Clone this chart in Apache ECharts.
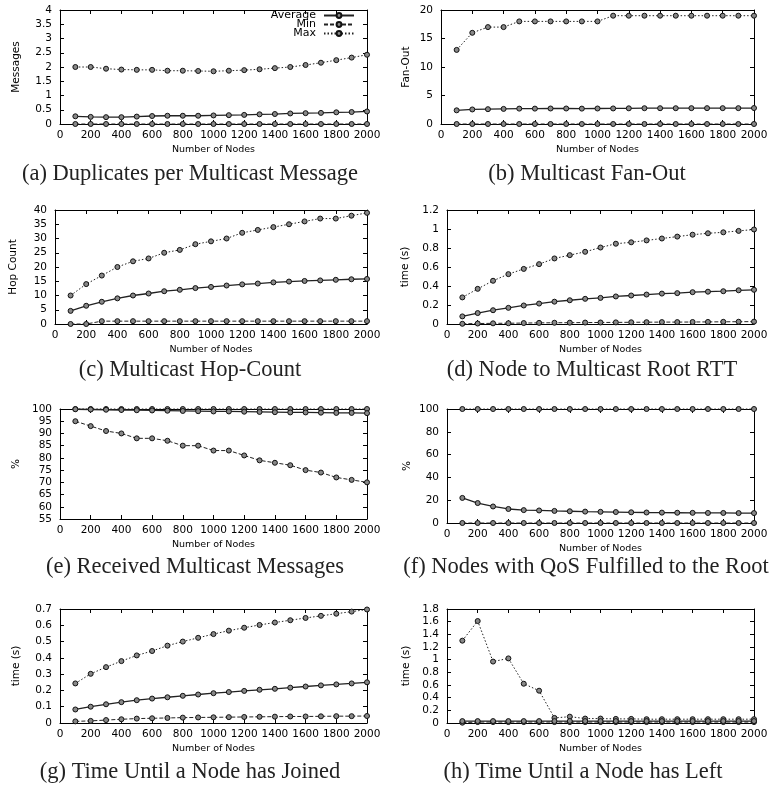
<!DOCTYPE html>
<html><head><meta charset="utf-8">
<script src="https://cdn.jsdelivr.net/npm/echarts@6/dist/echarts.min.js"></script>
<style>html,body{margin:0;padding:0;background:#fff}#c{width:775px;height:790px}</style>
</head><body><div id="c"></div>
<script>
const nodes = [100,200,300,400,500,600,700,800,900,1000,1100,1200,1300,1400,1500,1600,1700,1800,1900,2000];
const seriesNames = ['Average','Min','Max'];

// (a) Duplicates per Multicast Message
const dupAvg = [0.27,0.25,0.24,0.24,0.26,0.28,0.29,0.29,0.29,0.30,0.31,0.32,0.34,0.35,0.37,0.38,0.39,0.41,0.42,0.44];
const dupMin = [0,0,0,0,0,0,0,0,0,0,0,0,0,0,0,0,0,0,0,0];
const dupMax = [2.0,2.0,1.94,1.91,1.90,1.90,1.87,1.87,1.86,1.85,1.87,1.89,1.92,1.96,2.0,2.07,2.15,2.24,2.33,2.43];
// (b) Multicast Fan-Out
const fanAvg = [2.4,2.55,2.6,2.65,2.7,2.7,2.72,2.72,2.7,2.72,2.73,2.75,2.77,2.77,2.77,2.78,2.78,2.78,2.78,2.8];
const fanMin = [0,0,0,0,0,0,0,0,0,0,0,0,0,0,0,0,0,0,0,0];
const fanMax = [13,16,17,17,18,18,18,18,18,18,19,19,19,19,19,19,19,19,19,19];
// (c) Multicast Hop-Count
const hopAvg = [4.6,6.4,7.8,9.0,10.0,10.7,11.5,12.0,12.6,13.0,13.5,13.9,14.2,14.6,14.9,15.1,15.3,15.5,15.7,15.8];
const hopMin = [0,0,1,1,1,1,1,1,1,1,1,1,1,1,1,1,1,1,1,1];
const hopMax = [10,14,17,20,22,23,25,26,28,29,30,32,33,34,35,36,37,37,38,39];
// (d) Node to Multicast Root RTT
const rttAvg = [0.08,0.115,0.145,0.17,0.195,0.215,0.235,0.25,0.265,0.275,0.29,0.30,0.31,0.32,0.325,0.335,0.34,0.345,0.355,0.36];
const rttMin = [0.002,0.005,0.007,0.008,0.01,0.012,0.013,0.014,0.015,0.016,0.017,0.018,0.019,0.02,0.02,0.021,0.022,0.023,0.024,0.025];
const rttMax = [0.28,0.37,0.455,0.525,0.58,0.63,0.69,0.725,0.76,0.805,0.845,0.86,0.88,0.9,0.92,0.94,0.955,0.965,0.98,0.995];
// (e) Received Multicast Messages
const recAvg = [99.9,99.8,99.7,99.6,99.5,99.4,99.3,99.2,99.1,99.0,99.0,98.9,98.8,98.7,98.6,98.6,98.5,98.4,98.4,98.3];
const recMin = [95,93,91,90,88,88,87,85,85,83,83,81,79,78,77,75,74,72,71,70];
const recMax = [100,100,100,100,100,100,100,100,100,100,100,100,100,100,100,100,100,100,100,100];
// (f) Nodes with QoS Fulfilled to the Root
const qosAvg = [22,17.5,14.5,12.3,11.3,11,10.6,10.3,10,9.8,9.6,9.4,9.2,9.1,9.0,8.9,8.8,8.8,8.7,8.7];
const qosMin = [0,0,0,0,0,0,0,0,0,0,0,0,0,0,0,0,0,0,0,0];
const qosMax = [100,100,100,100,100,100,100,100,100,100,100,100,100,100,100,100,100,100,100,100];
// (g) Time Until a Node has Joined
const joinAvg = [0.083,0.1,0.115,0.128,0.14,0.15,0.158,0.167,0.175,0.183,0.19,0.197,0.204,0.21,0.217,0.224,0.231,0.237,0.243,0.25];
const joinMin = [0.01,0.013,0.018,0.023,0.027,0.029,0.031,0.033,0.034,0.035,0.036,0.037,0.038,0.039,0.04,0.04,0.041,0.042,0.042,0.043];
const joinMax = [0.243,0.302,0.343,0.38,0.415,0.442,0.475,0.5,0.523,0.546,0.567,0.585,0.602,0.617,0.631,0.645,0.658,0.671,0.684,0.697];
// (h) Time Until a Node has Left
const leftAvg = [0.03,0.03,0.03,0.03,0.03,0.03,0.03,0.03,0.03,0.03,0.03,0.03,0.03,0.03,0.03,0.03,0.03,0.03,0.03,0.03];
const leftMin = [0.005,0.015,0.015,0.015,0.015,0.015,0.015,0.015,0.015,0.015,0.015,0.015,0.015,0.015,0.015,0.015,0.015,0.015,0.015,0.015];
const leftMax = [1.3,1.61,0.97,1.02,0.62,0.51,0.08,0.1,0.07,0.07,0.065,0.065,0.06,0.06,0.06,0.06,0.06,0.06,0.06,0.06];

const captions = ['(a) Duplicates per Multicast Message','(b) Multicast Fan-Out','(c) Multicast Hop-Count','(d) Node to Multicast Root RTT','(e) Received Multicast Messages','(f) Nodes with QoS Fulfilled to the Root','(g) Time Until a Node has Joined','(h) Time Until a Node has Left'];
const yNames = ['Messages','Fan-Out','Hop Count','time (s)','%','%','time (s)','time (s)'];
const xName = 'Number of Nodes';
const yMin = [0,0,0,0,55,0,0,0];
const yMax = [4,20,40,1.2,100,100,0.7,1.8];
const yStep = [0.5,5,5,0.2,5,20,0.1,0.2];
const panelData = [
  [dupAvg,dupMin,dupMax],[fanAvg,fanMin,fanMax],[hopAvg,hopMin,hopMax],[rttAvg,rttMin,rttMax],
  [recAvg,recMin,recMax],[qosAvg,qosMin,qosMax],[joinAvg,joinMin,joinMax],[leftAvg,leftMin,leftMax]
];

// layout (pixels)
const grids = [
  {left:60,top:10,width:307,height:114,gap:38,cx:190,cy:174},
  {left:441,top:10,width:313,height:114,gap:29,cx:587,cy:174},
  {left:55,top:210,width:312,height:114,gap:36,cx:190,cy:370},
  {left:447,top:210,width:307,height:114,gap:36,cx:592,cy:370},
  {left:60,top:409,width:307,height:110,gap:38,cx:195,cy:567},
  {left:447,top:409,width:307,height:114,gap:34,cx:586,cy:567},
  {left:60,top:609,width:307,height:114,gap:38,cx:190,cy:772},
  {left:447,top:609,width:307,height:114,gap:35,cx:583,cy:772}
];

const FONT = 'DejaVu Sans';
const lineStyles = [
  {type:'solid',width:1.3},
  {type:[4,2],width:1},
  {type:[1.5,2],width:1}
];
const axisLine = {show:true,onZero:false,lineStyle:{color:'#000',width:1}};
const tick = {show:true,inside:true,length:4,lineStyle:{color:'#000'}};
const fmt = v => String(+(+v).toFixed(3));

const option = {
  animation:false,
  backgroundColor:'#fff',
  grid:[], xAxis:[], yAxis:[], series:[], graphic:[],
  legend: seriesNames.map((n,k)=>({
    data:[n], orient:'vertical', right:420, top:10+k*9, align:'right',
    itemWidth:30, itemHeight:6, itemGap:0, padding:0,
    textStyle:{fontFamily:FONT,fontSize:11,color:'#000',padding:[0,3,0,0]}
  }))
};

grids.forEach((g,i)=>{
  option.grid.push({left:g.left,top:g.top,width:g.width,height:g.height,containLabel:false});
  option.xAxis.push({
    gridIndex:i,type:'value',min:0,max:2000,interval:200,position:'bottom',
    axisLine,axisTick:tick,splitLine:{show:false},
    axisLabel:{fontFamily:FONT,fontSize:10.5,color:'#000',margin:6,formatter:fmt,showMaxLabel:true,showMinLabel:true,hideOverlap:false},
    name:xName,nameLocation:'middle',nameGap:21,
    nameTextStyle:{fontFamily:FONT,fontSize:9.5,color:'#000'}
  });
  option.xAxis.push({
    gridIndex:i,type:'value',min:0,max:2000,interval:200,position:'top',
    axisLine,axisTick:tick,splitLine:{show:false},axisLabel:{show:false}
  });
  option.yAxis.push({
    gridIndex:i,type:'value',min:yMin[i],max:yMax[i],interval:yStep[i],position:'left',
    axisLine,axisTick:tick,splitLine:{show:false},
    axisLabel:{fontFamily:FONT,fontSize:10.5,color:'#000',margin:8,formatter:fmt,showMaxLabel:true,showMinLabel:true},
    name:yNames[i],nameLocation:'middle',nameGap:g.gap,nameRotate:90,
    nameTextStyle:{fontFamily:FONT,fontSize:10.5,color:'#000'}
  });
  option.yAxis.push({
    gridIndex:i,type:'value',min:yMin[i],max:yMax[i],interval:yStep[i],position:'right',
    axisLine,axisTick:tick,splitLine:{show:false},axisLabel:{show:false}
  });
  panelData[i].forEach((arr,k)=>{
    option.series.push({
      type:'line',name:seriesNames[k],xAxisIndex:2*i,yAxisIndex:2*i,
      data:nodes.map((x,j)=>[x,arr[j]]),
      symbol:'circle',symbolSize:5,showSymbol:true,clip:false,
      lineStyle:Object.assign({color:'#222'},lineStyles[k]),
      itemStyle:{color:'#888',borderColor:'#111',borderWidth:1},
      z:3-k
    });
  });
  option.graphic.push({
    type:'text',
    style:{text:captions[i],x:g.cx,y:g.cy,fontFamily:'Liberation Serif',fontSize:22.5,fill:'#222',align:'center',verticalAlign:'middle'}
  });
});

const chart = echarts.init(document.getElementById('c'),null,{renderer:'canvas'});
chart.setOption(option);
</script>
</body></html>
